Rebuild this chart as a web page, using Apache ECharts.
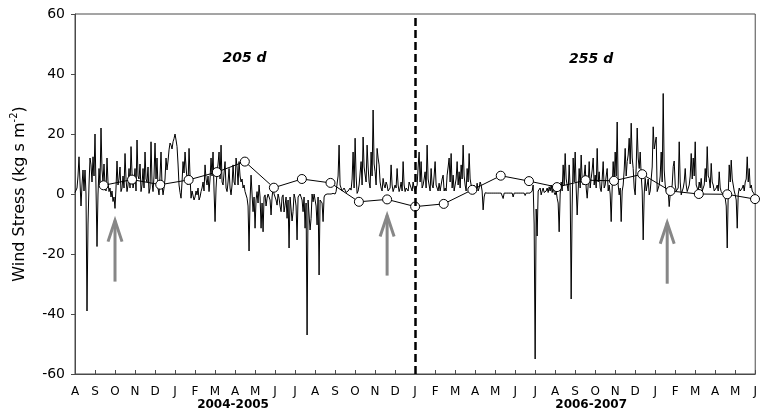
<!DOCTYPE html>
<html>
<head>
<meta charset="utf-8">
<script src="https://cdn.jsdelivr.net/npm/echarts@6/dist/echarts.min.js"></script>
<style>
  html, body { margin: 0; padding: 0; background: #fff; }
  #chart { width: 760px; height: 418px; }
</style>
</head>
<body>
<div id="chart"></div>
<script>
// Month tick letters, Aug 2004 .. Jun 2007 (one tick per month)
const monthLetters = ['A','S','O','N','D','J','F','M','A','M','J','J',
  'A','S','O','N','D','J','F','M','A','M','J','J',
  'A','S','O','N','D','J','F','M','A','M','J'];

// Season labels under the axis, placed by month position
const seasonLabels = ['2004-2005', '2006-2007'];
const seasonMonth = [7.9, 25.8];

// Wind stress (kg s m-2), one sample every 0.05 month starting Aug 2004
const sampleStep = 0.05;
const stressY1 = [ // Aug 2004 - Jul 2005
  0.5,1, 2,6, 12.4,4, -4,3, 8,1, 8,0, -39,-10, 3,12, 9.7,4, 12.4,6,
  20,2, -17.5,0, 8.5,3, 22,8, 4,10, 3,1, 12,4, 0.8,2, -1,1, -2.5,-1,
  -4.8,2, 11,3, 5,9, 0.8,2, 6,2, 13.5,5, 0.8,3, 8.5,2, 15.8,7, 2,4,
  8.5,1, 18,6, 5,10, 0.8,3, 8.5,2, 14,5, 4,9, 0.2,2, 17.4,4, 0.8,6,
  17,5, 12,2, -0.3,6, 14,3, -0.3,2, 5,12, 8,11, 14.7,17, 16.3,15, 17.4,18.5,
  20,18, 15.8,10, 3,0.5, -1.4,4, 10.8,7, 14,9, 5,3, 15.2,6, -1.4,1, 0.8,-2,
  -1,1, -0.3,2, -2,-1, 0.8,2, 4,1, 9.7,5, 3,6, 0.8,5, 12,6, 14,1,
  -9.2,2, 7.4,10, 14,5, 16.3,4, 3,7, 10.8,2, 0.8,4, 8.5,2, -0.3,3, 9.7,4,
  3,12, 9,3, 10.8,6, 4,5, 2,3, 0.8,1, -1.4,-4, -19,-2, 6.3,0, -5.9,-1,
  -11.4,-2, 0.8,-3, 3,-1, -11.4,-3, -12.6,-1, -0.3,-4, -1.4,0, -0.3,-2, -7,-1, 2,0,
  -0.3,-2, -3.7,0, -1.4,-4, -5.9,-1, -0.3,-6, -3.7,-1, -8.1,-2, -18,-1, -1.4,-9, -5.9,0,
  -1.4,-4, -15.3,-1, -1.4,0, -0.3,-2, -5.9,-1, -11.4,-3, -47,-2, -1.4,-12, -8.1,0, -2.6,0
];
const stressY2 = [ // Aug 2005 - Jul 2006
  -0.3,-4, -10.3,-1, -27,-2, -1.4,-3, -9.2,-1, -0.3,0, 0,0, 0,0.2, 0,0, 0.2,0.5,
  0,0.8, 1.3,6, 16.3,3, 2,1, 0.8,2, 1.3,0.5, 0.2,1, 0.8,2, 1.3,5, 14,2,
  18.6,6, 0.2,1, 3,7, 10.8,3, 19,9, 8.5,4, 16.3,9, 4,2, 14,6, 28,10,
  7.4,3, 15.2,12, 9.7,4, 2,1, 5.2,3, 2,4, 3,1, 0.8,2, 9.7,3, 0.8,1,
  3,2, 8.5,3, 0.8,2, 4,1, 10.8,3, 0.8,2, 2.4,1, 4,3, 2,1, 4,2,
  0.8,1, 3,9, 14,4, 10.8,2, 3,5, 7.4,2, 16.3,5, 3,1, 8.5,3, 2,6,
  10.8,3, 2,1, 3.6,1, 3,5, 6.3,1, 2,1, 6.3,9, 12,4, 13.5,2, 6.3,1,
  3,5, 10.8,3, 7.4,2, 9.7,5, 16.3,6, 3,1, 8.5,4, 13.5,5, 3,1, 2,3,
  2.4,1, 3.6,1, 2,4, 3,1, -5.3,-1, 0.4,0.3, 0.3,0.3, 0.3,0.3, 0.3,0.3, 0.3,0.3,
  0.3,0.3, 0.3,0.3, 0.3,0.3, 0.3,0.3, -1.5,0.3, 0.3,0.3, 0.3,0.3, 0.3,0.3, 0.3,0.3, -1,0.3,
  0.3,0.3, 0.3,0.3, 0.3,0.3, 0.3,0.3, 0.3,0.3, -0.5,0.3, 0.3,0.3, 0.3,0.3, 0.3,1, 3,-10,
  -55,-5, -14,1, 0.8,2, -0.3,1, 2,0.5, 0.8,1, 2,0.5, 2.4,1, 3,0.5, 2,0.5
];
const stressY3 = [ // Aug 2006 - Jun 2007
  -0.3,1, -1.4,-3, -12.6,0, 4,1, 9.7,3, 13.5,5, 5.2,1, 9.7,2, -35,-4, 12,4,
  14,2, -7,1, 8.5,2, 13,5, 3,6, 9.7,2, -1.4,3, 10.8,2, 5.2,8, 12,3,
  6.3,2, 15.2,4, 7.4,2, 0.8,5, 10.8,2, 3,6, 8.5,1, 3,0, -9.2,2, 10.8,4,
  14,6, 24,3, -0.3,2, -9.2,1, 3,8, 15.2,6, 10.8,13, 18.6,10, 23.6,12, 8.5,2,
  -0.3,9, 22,12, 8.5,14, 6.3,1, -15.3,0, 5.2,1, 3,5, -0.3,1, 0.8,9, 22.4,15,
  17,19, 0.8,1, 3,6, 14,4, 33.5,8, 3,1, 0.2,1, -4.2,0, -0.3,3, 9.1,11,
  3,1, 0.8,2, 17.4,4, -0.3,1, 2,4, 8.5,3, 0.8,1, 3,6, 13.5,5, 12,6,
  17.4,3, 2.4,1, 4,2, 5.2,1, 2,3, 8.5,4, 15.8,6, 5.2,2, 10.2,4, 3,1,
  0.8,2, 3,1, 7.4,2, 0.8,1, -0.3,0.5, -1.4,-4, -18,0, 9.7,4, 11.3,5, 3,1,
  -0.3,-2, -11.4,0, 2,1, 0.8,2, 3,1, 4,5, 12.4,4, 8.5,2, 3,1, 0.8,0, -0.9
];

// Period means (open circles): month position and value
const meanMonth = [1.43, 2.85, 4.26, 5.68, 7.09, 8.49, 9.94, 11.34, 12.77, 14.19,
  15.6, 17.0, 18.43, 19.86, 21.28, 22.69, 24.09, 25.52, 26.94, 28.35,
  29.76, 31.18, 32.6, 33.99];
const meanValue = [2.9, 4.8, 3.1, 4.7, 7.3, 10.8, 2.1, 5, 3.7, -2.6,
  -1.8, -4.2, -3.3, 1.4, 6.1, 4.3, 2.3, 4.6, 4.4, 6.6,
  1, 0, -0.1, -1.7];

// Event arrows: month, tail value, tip value
const arrowMonth = [2.0, 15.6, 29.6];
const arrowTail = [-29.2, -27.2, -29.9];
const arrowTip = [-7.2, -5.5, -7.9];

// Duration annotations
const durationText = ['205 d', '255 d'];
const durationMonth = [8.47, 25.8];
const durationValue = [45.3, 45];

// Season boundary (Jan 2006)
const boundaryMonth = 17;

const stressAll = stressY1.concat(stressY2, stressY3);
const stressData = stressAll.map((v, i) => [+(i * sampleStep).toFixed(3), v]);
const meanData = meanMonth.map((m, i) => [m, meanValue[i]]);
const arrowData = arrowMonth.map((m, i) => [m, arrowTail[i], arrowTip[i]]);

const FONT = '"DejaVu Sans", "Liberation Sans", Arial, sans-serif';
const AXIS_COLOR = '#4a4a4a';
const ARROW_COLOR = '#878787';

const chart = echarts.init(document.getElementById('chart'), null, { renderer: 'canvas' });

chart.setOption({
  animation: false,
  backgroundColor: '#fff',
  grid: {
    left: 75, right: 1, top: 14, bottom: 44,
    show: true, borderColor: AXIS_COLOR, borderWidth: 1, backgroundColor: 'transparent'
  },
  xAxis: [{
    type: 'value', min: 0, max: 34, interval: 1,
    axisLine: { show: true, onZero: false, lineStyle: { color: AXIS_COLOR, width: 1 } },
    axisTick: { show: true, inside: true, length: 4, lineStyle: { color: AXIS_COLOR } },
    splitLine: { show: false },
    axisLabel: {
      margin: 12, fontFamily: FONT, fontSize: 12, color: '#000',
      showMinLabel: true, showMaxLabel: true,
      formatter: (v) => monthLetters[Math.round(v)] || ''
    }
  }, {
    type: 'value', min: 0, max: 34, position: 'bottom',
    axisLine: { show: false }, axisTick: { show: false }, splitLine: { show: false },
    axisLabel: {
      customValues: seasonMonth, margin: 25,
      fontFamily: FONT, fontSize: 12, fontWeight: 'bold', color: '#000',
      formatter: (v) => seasonLabels[seasonMonth.indexOf(v)] || ''
    }
  }],
  yAxis: {
    type: 'value', min: -60, max: 60, interval: 20,
    axisLine: { show: true, lineStyle: { color: AXIS_COLOR, width: 1 } },
    axisTick: { show: true, inside: false, length: 4, lineStyle: { color: AXIS_COLOR } },
    splitLine: { show: false },
    axisLabel: { margin: 10, fontFamily: FONT, fontSize: 14, color: '#000' },
    name: '{a|Wind Stress (kg s m}{s|-2}{a|)}',
    nameLocation: 'middle', nameRotate: 90, nameGap: 47,
    nameTextStyle: {
      rich: {
        a: { fontFamily: FONT, fontSize: 16, color: '#000', lineHeight: 19, verticalAlign: 'bottom' },
        s: { fontFamily: FONT, fontSize: 10, color: '#000', lineHeight: 19, verticalAlign: 'top' }
      }
    }
  },
  series: [{
    name: 'Daily wind stress',
    type: 'line',
    data: stressData,
    showSymbol: false,
    lineStyle: { color: '#000', width: 1 },
    z: 2,
    markLine: {
      silent: true, symbol: ['none', 'none'], label: { show: false },
      lineStyle: { color: '#000', width: 2.5, type: [8, 4] },
      data: [{ xAxis: boundaryMonth }]
    }
  }, {
    name: 'Period mean',
    type: 'line',
    data: meanData,
    symbol: 'circle', symbolSize: 9, showSymbol: true,
    lineStyle: { color: '#000', width: 1 },
    itemStyle: { color: '#fff', borderColor: '#000', borderWidth: 1 },
    z: 4
  }, {
    name: 'Events',
    type: 'custom',
    data: arrowData,
    z: 5,
    renderItem: (params, api) => {
      const tail = api.coord([api.value(0), api.value(1)]);
      const tip = api.coord([api.value(0), api.value(2)]);
      const vx = tip[0], vy = tip[1] + 5;
      return {
        type: 'group',
        children: [{
          type: 'line',
          shape: { x1: tail[0], y1: tail[1], x2: vx, y2: vy },
          style: { stroke: ARROW_COLOR, lineWidth: 3 }
        }, {
          type: 'polyline',
          shape: { points: [[vx - 7, vy + 21], [vx, vy], [vx + 7, vy + 21]] },
          style: { stroke: ARROW_COLOR, lineWidth: 3, fill: null, lineJoin: 'miter' }
        }]
      };
    }
  }]
});

// Duration annotations placed through the grid's own scales
const notes = durationText.map((t, i) => {
  const p = chart.convertToPixel({ gridIndex: 0 }, [durationMonth[i], durationValue[i]]);
  return {
    type: 'text', x: p[0], y: p[1], z: 10,
    style: {
      text: t, fontFamily: FONT, fontSize: 14, fontWeight: 'bold', fontStyle: 'italic',
      fill: '#000', align: 'center', verticalAlign: 'middle'
    }
  };
});
chart.setOption({ graphic: notes });
</script>
</body>
</html>
